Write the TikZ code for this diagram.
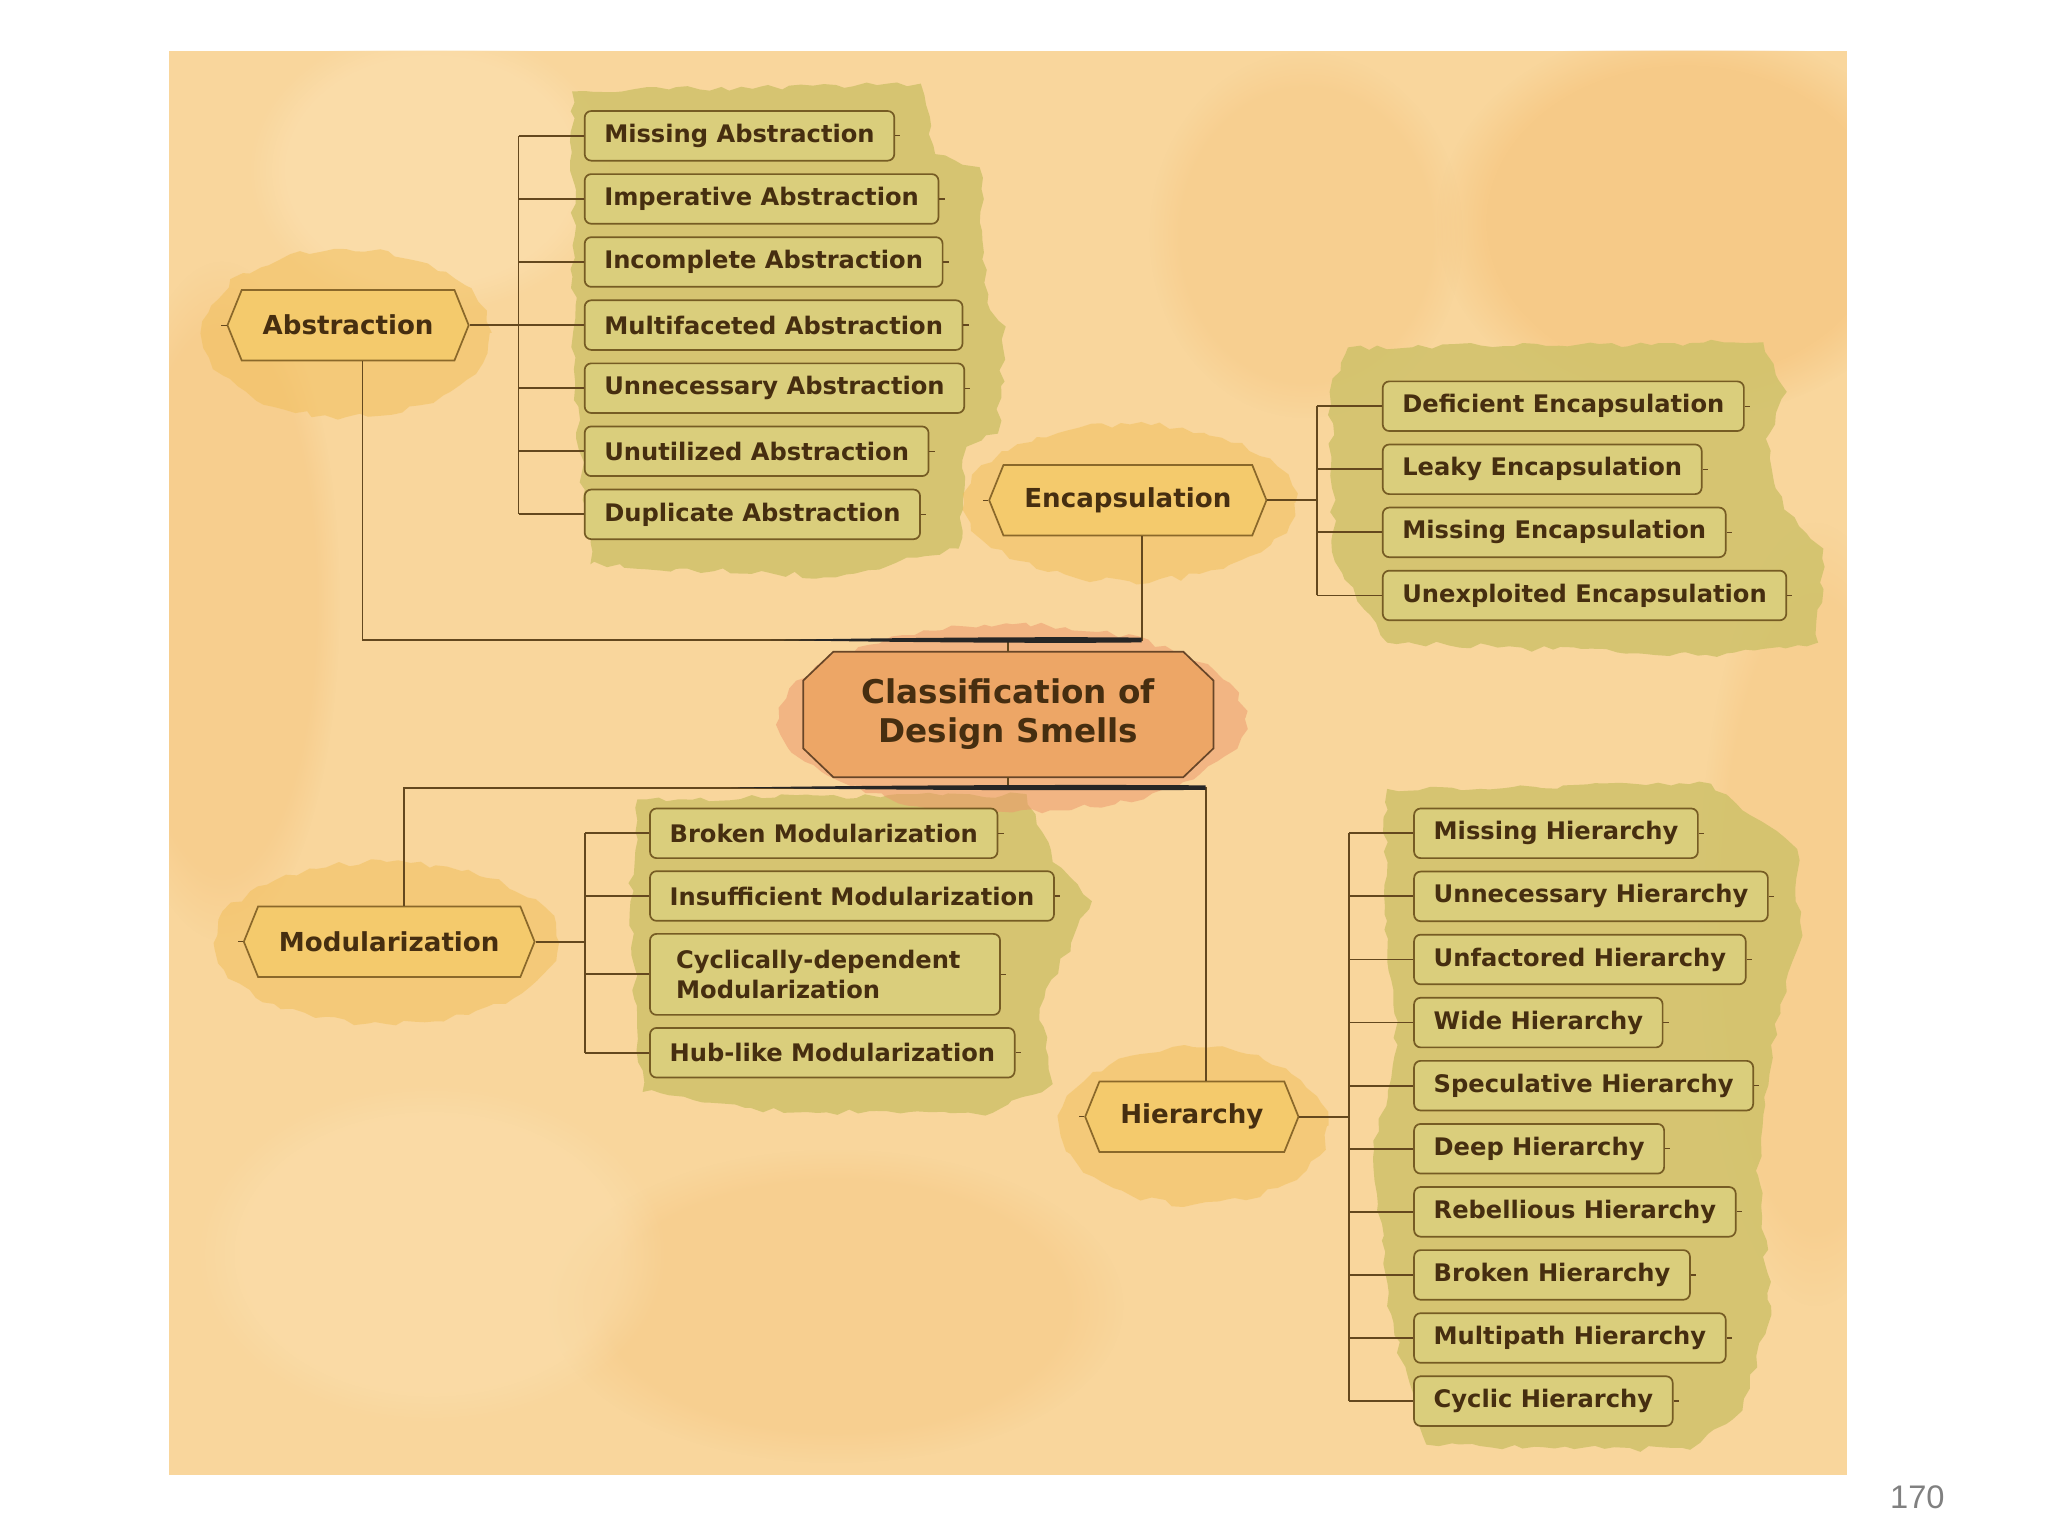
\documentclass[tikz,border=0pt]{standalone}
\usepackage{fontspec}
\setmainfont{DejaVu Sans}
\newfontfamily\pagefont{Liberation Sans}
\usetikzlibrary{shapes.symbols,decorations.pathmorphing,fadings}

\definecolor{paper}{RGB}{249,214,156}
\definecolor{paperdark}{RGB}{245,192,118}
\definecolor{paperlight}{RGB}{252,226,180}
\definecolor{moss}{RGB}{208,194,106}
\definecolor{glow}{RGB}{241,190,88}
\definecolor{rootglow}{RGB}{236,150,108}
\definecolor{leaffill}{RGB}{218,206,124}
\definecolor{leafedge}{RGB}{118,92,36}
\definecolor{topicfill}{RGB}{244,202,108}
\definecolor{topicedge}{RGB}{138,104,42}
\definecolor{rootfill}{RGB}{237,166,102}
\definecolor{rootedge}{RGB}{104,70,40}
\definecolor{linebrown}{RGB}{100,72,30}
\definecolor{ink}{RGB}{70,46,16}

\begin{document}
\begin{tikzpicture}[x=1pt, y=-1pt,
  link/.style={draw=linebrown, line width=1.4pt},
  leaf/.style={draw=leafedge, fill=leaffill, line width=1.3pt, rounded corners=5pt,
    minimum height=38pt, inner xsep=15pt, inner ysep=0pt, anchor=west,
    font=\bfseries\fontsize{18.5}{23.5}\selectfont, text=ink},
  topic/.style={signal, signal to=east and west, signal pointer angle=136,
    draw=topicedge, fill=topicfill, line width=1.3pt, minimum height=54pt,
    inner xsep=16pt, font=\bfseries\fontsize{20}{24}\selectfont, text=ink},
  rootbox/.style={minimum width=314pt, minimum height=96pt, align=center,
    font=\bfseries\fontsize{25}{30}\selectfont, text=ink},
  blob/.style={decorate, decoration={random steps, segment length=8pt, amplitude=2.5pt}},
  soft/.style={path fading=circle with fuzzy edge 20 percent}]

  \pgfmathsetseed{11}
  \useasboundingbox (0,0) rectangle (1568,1176);
  \fill[white] (0,0) rectangle (1568,1176);

  % watercolour paper
  \fill[paper] (129.5,39) rectangle (1414,1129);
  \begin{scope}
    \clip (129.5,39) rectangle (1414,1129);
    \fill[paperdark, soft, opacity=0.5] (1290,170) ellipse [x radius=190, y radius=150];
    \fill[paperdark, soft, opacity=0.35] (170,460) ellipse [x radius=90, y radius=260];
    \fill[paperdark, soft, opacity=0.3] (1000,180) ellipse [x radius=120, y radius=140];
    \fill[paperdark, soft, opacity=0.3] (640,1000) ellipse [x radius=220, y radius=120];
    \fill[paperdark, soft, opacity=0.3] (1390,700) ellipse [x radius=90, y radius=300];
    \fill[paperlight, soft, opacity=0.5] (330,130) ellipse [x radius=140, y radius=110];
    \fill[paperlight, soft, opacity=0.4] (330,960) ellipse [x radius=180, y radius=130];
  \end{scope}

  % washes behind the groups
  \fill[moss, blob, opacity=0.85] (438,70) -- (705,64) -- (716,118) -- (750,128) -- (756,232)
    -- (770,250) -- (764,332) -- (740,342) -- (734,420) -- (640,442) -- (452,432)
    -- (440,300) -- cycle;
  \fill[moss, blob, opacity=0.85] (1032,266) -- (1350,262) -- (1368,300) -- (1352,336)
    -- (1366,390) -- (1396,420) -- (1392,492) -- (1300,502) -- (1062,492) -- (1022,430)
    -- (1018,300) -- cycle;
  \fill[moss, blob, opacity=0.85] (488,612) -- (786,608) -- (806,660) -- (836,690)
    -- (820,722) -- (796,772) -- (806,830) -- (760,852) -- (600,852) -- (492,836)
    -- (482,700) -- cycle;
  \fill[moss, blob, opacity=0.85] (1062,604) -- (1310,600) -- (1376,650) -- (1378,722)
    -- (1356,800) -- (1346,900) -- (1356,1000) -- (1334,1080) -- (1294,1110)
    -- (1092,1106) -- (1062,1000) -- (1052,880) -- (1070,800) -- (1060,700) -- cycle;
  \fill[glow, blob, opacity=0.5] (265,255) ellipse [x radius=110, y radius=64];
  \fill[glow, blob, opacity=0.5] (865,385) ellipse [x radius=126, y radius=60];
  \fill[glow, blob, opacity=0.5] (296,722) ellipse [x radius=132, y radius=62];
  \fill[glow, blob, opacity=0.5] (914,862) ellipse [x radius=102, y radius=60];
  \fill[rootglow, blob, opacity=0.5] (775,550) ellipse [x radius=178, y radius=72];

  % root outline: a chamfered box
  \filldraw[fill=rootfill, draw=rootedge, line width=1.3pt]
    (638,499) -- (906,499) -- (929,521) -- (929,573) -- (906,595) -- (638,595)
    -- (615,573) -- (615,521) -- cycle;

  % root and topics
  \node[rootbox] (root) at (772,547) {Classification of\\Design Smells};
  \node[topic] (abs) at (266.5,249) {Abstraction};
  \node[topic] (enc) at (863.5,383) {Encapsulation};
  \node[topic] (mod) at (298,721) {Modularization};
  \node[topic] (hier) at (912.5,855) {Hierarchy};

  % smells
  \foreach \t [count=\i] in {Missing Abstraction, Imperative Abstraction,
      Incomplete Abstraction, Multifaceted Abstraction, Unnecessary Abstraction,
      Unutilized Abstraction, Duplicate Abstraction}
    \node[leaf] (abs\i) at (447,{104+48.3*(\i-1)}) {\t};
  \foreach \t [count=\i] in {Deficient Encapsulation, Leaky Encapsulation,
      Missing Encapsulation, Unexploited Encapsulation}
    \node[leaf] (enc\i) at (1058,{311+48.3*(\i-1)}) {\t};
  \node[leaf] (mod1) at (497,638) {Broken Modularization};
  \node[leaf] (mod2) at (497,686) {Insufficient Modularization};
  \node[leaf, align=left, minimum height=62pt, text width=228pt, inner xsep=20pt]
    (mod3) at (497,746) {Cyclically-dependent\\Modularization};
  \node[leaf] (mod4) at (497,806) {Hub-like Modularization};
  \foreach \t [count=\i] in {Missing Hierarchy, Unnecessary Hierarchy,
      Unfactored Hierarchy, Wide Hierarchy, Speculative Hierarchy, Deep Hierarchy,
      Rebellious Hierarchy, Broken Hierarchy, Multipath Hierarchy, Cyclic Hierarchy}
    \node[leaf] (hier\i) at (1082,{638+48.3*(\i-1)}) {\t};

  % branches
  \coordinate (absbus) at (397,249);
  \coordinate (encbus) at (1008,383);
  \coordinate (modbus) at (448,721);
  \coordinate (hierbus) at (1033,855);
  \draw[link] (abs.east) -- (absbus);
  \draw[link] (abs1.west -| absbus) -- (abs7.west -| absbus);
  \foreach \i in {1,...,7}
    \draw[link] (abs\i.west -| absbus) -- (abs\i.west);
  \draw[link] (enc.east) -- (encbus);
  \draw[link] (enc1.west -| encbus) -- (enc4.west -| encbus);
  \foreach \i in {1,...,4}
    \draw[link] (enc\i.west -| encbus) -- (enc\i.west);
  \draw[link] (mod.east) -- (modbus);
  \draw[link] (mod1.west -| modbus) -- (mod4.west -| modbus);
  \foreach \i in {1,...,4}
    \draw[link] (mod\i.west -| modbus) -- (mod\i.west);
  \draw[link] (hier.east) -- (hierbus);
  \draw[link] (hier1.west -| hierbus) -- (hier10.west -| hierbus);
  \foreach \i in {1,...,10}
    \draw[link] (hier\i.west -| hierbus) -- (hier\i.west);

  % little stubs
  \foreach \n in {abs1,abs2,abs3,abs4,abs5,abs6,abs7,enc1,enc2,enc3,enc4,
      mod1,mod2,mod3,mod4,hier1,hier2,hier3,hier4,hier5,hier6,hier7,hier8,hier9,hier10}
    \draw[link, line width=1pt] (\n.east) -- ++(4,0);
  \foreach \n in {abs,enc,mod,hier}
    \draw[link, line width=1pt] (\n.west) -- ++(-4,0);

  % trunk to the root
  \coordinate (up) at (772,490);
  \coordinate (down) at (772,603);
  \draw[link] (root.north) -- (up);
  \draw[link] (root.south) -- (down);
  \draw[link] ([xshift=11pt]abs.south) |- (up) -| ([xshift=11pt]enc.south);
  \draw[link] ([xshift=11pt]mod.north) |- (down) -| ([xshift=11pt]hier.north);
  \fill[black!85] (590,490) .. controls (700,488) and (820,487.4) .. (874,488.2)
    -- (874,491.8) .. controls (820,492.6) and (700,492) .. (590,490) -- cycle;
  \fill[black!85] (560,603) .. controls (680,601) and (850,600.6) .. (923,601.3)
    -- (923,604.7) .. controls (850,605.4) and (680,605) .. (560,603) -- cycle;

  \node[font=\pagefont\fontsize{25}{30}\selectfont, text=black!50] (page) at (1468,1146) {170};

\end{tikzpicture}
\end{document}
